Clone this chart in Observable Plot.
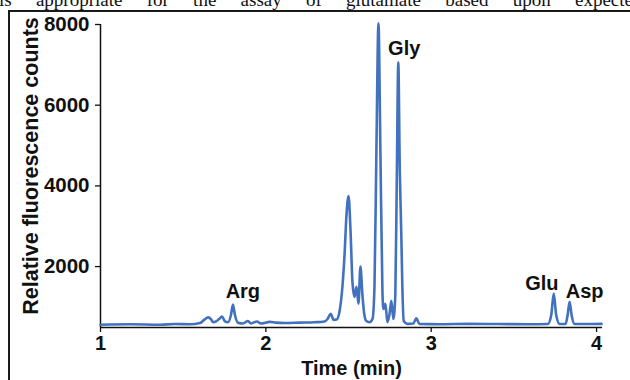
<!DOCTYPE html>
<html>
<head>
<meta charset="utf-8">
<script src="https://cdn.jsdelivr.net/npm/d3@7"></script>
<script src="https://cdn.jsdelivr.net/npm/@observablehq/plot@0.6"></script>
<style>
  html, body { margin: 0; padding: 0; background: #fff; }
  #page { position: relative; width: 630px; height: 380px; overflow: hidden; background: #fff; }
  #toptext { position: absolute; left: -1px; top: -10px; width: 634px; font: 19px/19px "Liberation Serif", "Times New Roman", serif; color: #111; text-align: justify; text-align-last: justify; white-space: nowrap; }
  #frame { position: absolute; left: 8px; top: 10px; width: 640px; height: 400px; border-left: 2px solid #1a1a1a; border-top: 2px solid #1a1a1a; }
  #chart { position: absolute; left: 0; top: 0; }
</style>
</head>
<body>
<div id="page">
  <div id="toptext">is&nbsp;&nbsp;appropriate&nbsp;&nbsp;for&nbsp;&nbsp;the&nbsp;&nbsp;assay&nbsp;&nbsp;of&nbsp;&nbsp;glutamate&nbsp;&nbsp;based&nbsp;&nbsp;upon&nbsp;&nbsp;expecte</div>
  <div id="frame"></div>
  <div id="chart"></div>
</div>
<script>
// Chromatogram trace: time (min) and relative fluorescence counts
const times = [
  1.000, 1.181, 1.361, 1.452, 1.542, 1.602, 1.627, 1.651, 1.669, 1.681,
  1.699, 1.717, 1.735, 1.753, 1.771, 1.789, 1.801, 1.813, 1.831, 1.861,
  1.892, 1.910, 1.946, 1.970, 2.024, 2.060, 2.114, 2.205, 2.295, 2.355,
  2.373, 2.392, 2.410, 2.428, 2.446, 2.464, 2.476, 2.488, 2.500, 2.512,
  2.524, 2.536, 2.548, 2.560, 2.572, 2.584, 2.596, 2.608, 2.627, 2.645,
  2.657, 2.669, 2.681, 2.693, 2.705, 2.711, 2.723, 2.735, 2.747, 2.759,
  2.771, 2.783, 2.792, 2.801, 2.810, 2.819, 2.825, 2.834, 2.855, 2.892,
  2.910, 2.928, 3.048, 3.229, 3.410, 3.590, 3.705, 3.726, 3.741, 3.756,
  3.777, 3.813, 3.825, 3.837, 3.849, 3.867, 3.952, 4.030
];
const counts = [
  560, 570, 560, 575, 570, 600, 680, 740, 690, 620,
  640, 700, 760, 640, 620, 800, 1060, 800, 610, 590,
  650, 590, 640, 590, 630, 610, 600, 610, 620, 640,
  700, 830, 680, 690, 900, 1550, 2300, 3300, 3750, 2900,
  1600, 1250, 1500, 1080, 2000, 1300, 800, 650, 620, 700,
  1500, 5000, 8030, 4800, 1400, 950, 1080, 620, 800, 1150,
  700, 1300, 4200, 7060, 4400, 2840, 1600, 650, 580, 590,
  720, 580, 570, 580, 575, 570, 575, 800, 1330, 800,
  575, 580, 800, 1130, 800, 575, 575, 580
];

// Peak annotations
const peakNames = ["Arg", "Gly", "Glu", "Asp"];
const peakTimes = [1.861, 2.837, 3.669, 3.928];
const peakCounts = [1378, 7405, 1577, 1378];

// Axis ticks
const xTicks = [1, 2, 3, 4];
const yTicks = [2000, 4000, 6000, 8000];

const trace = times.map((t, i) => ({t, c: counts[i]}));
const labels = peakNames.map((n, i) => ({n, t: peakTimes[i], c: peakCounts[i]}));

const ink = "#111";
const chart = Plot.plot({
  width: 630,
  height: 380,
  marginLeft: 100,
  marginRight: 28,
  marginTop: 24,
  marginBottom: 53,
  style: {background: "transparent", fontFamily: "'Liberation Sans', Arial, sans-serif", fontWeight: "bold", fontSize: "20px", color: ink, overflow: "visible"},
  x: {domain: [1, 4.036]},
  y: {domain: [490, 8000]},
  marks: [
    Plot.axisX({ticks: xTicks, tickSize: 5, tickPadding: 3, tickFormat: d3.format("d"), label: "Time (min)", labelAnchor: "center", labelArrow: "none", labelOffset: 47, stroke: ink, strokeWidth: 1.3}),
    Plot.axisY({ticks: yTicks, tickSize: 5, tickPadding: 6, tickFormat: d => String(d), fontSize: 20.5, label: "Relative fluorescence counts", labelAnchor: "center", labelArrow: "none", labelOffset: 78, stroke: ink, strokeWidth: 1.3}),
    Plot.ruleY([490], {stroke: ink, strokeWidth: 1.5}),
    Plot.ruleX([1], {y1: 490, y2: 8000, stroke: ink, strokeWidth: 1.5}),
    Plot.line(trace, {x: "t", y: "c", stroke: "#4271BE", strokeWidth: 2.6, curve: "monotone-x", strokeLinejoin: "round"}),
    Plot.text(labels, {x: "t", y: "c", text: "n", fontSize: 20, fontWeight: "bold", fill: ink})
  ]
});
// enlarge and nudge the y-axis title to match the reference
d3.select(chart).selectAll('g[aria-label="y-axis label"] text').each(function() {
  const el = d3.select(this);
  el.attr("font-size", 21.5).style("font-size", "21.5px");
  el.attr("transform", "translate(0,-10) " + (el.attr("transform") || ""));
});
document.getElementById("chart").appendChild(chart);
</script>
</body>
</html>
